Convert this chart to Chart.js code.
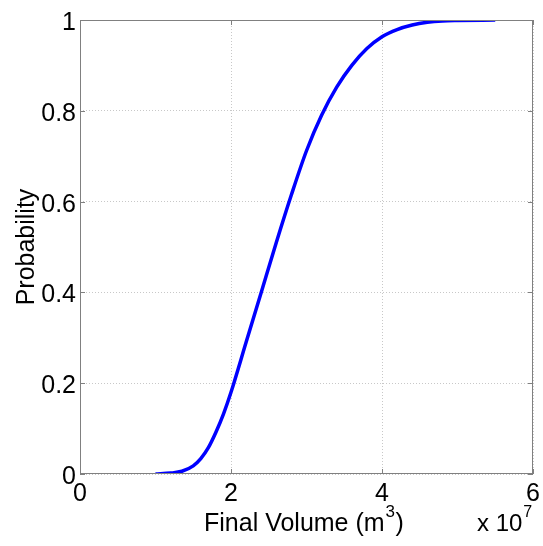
<!DOCTYPE html>
<html>
<head>
<meta charset="utf-8">
<script src="https://cdn.jsdelivr.net/npm/chart.js@4/dist/chart.umd.min.js"></script>
<style>
  html, body { margin: 0; padding: 0; background: #fff; }
  #wrap { width: 543px; height: 546px; }
</style>
</head>
<body>
<div id="wrap"><canvas id="cdf"></canvas></div>
<script>
// final volume, in units of 1e7 m^3
const volumes = [1.0, 1.2, 1.35, 1.5, 1.6, 1.7, 1.8, 1.9, 2.0, 2.2, 2.4, 2.6, 2.8, 3.0, 3.2, 3.4, 3.6, 3.8, 4.0, 4.2, 4.4, 4.6, 4.8, 5.0, 5.5]
const probability = [0, 0.002, 0.006, 0.018, 0.034, 0.058, 0.092, 0.132, 0.18, 0.29, 0.40, 0.51, 0.615, 0.712, 0.79, 0.852, 0.90, 0.937, 0.963, 0.979, 0.989, 0.995, 0.998, 0.999, 1.0]
const xTicks = [0, 2, 4, 6]
const xTickLabels = ["0", "2", "4", "6"]
const yTicks = [0, 0.2, 0.4, 0.6, 0.8, 1]
const yTickLabels = ["0", "0.2", "0.4", "0.6", "0.8", "1"]

const FONT = "Liberation Sans, Arial, Helvetica, sans-serif"

// matlab-ish frame, inward ticks, tick labels and the axis labels
const frame = {
  id: "frame",
  afterDraw(chart) {
    const { ctx, chartArea: a, scales } = chart
    ctx.save()
    ctx.strokeStyle = "#808080"
    ctx.lineWidth = 1
    ctx.strokeRect(a.left + 0.5, a.top + 0.5, a.right - a.left - 1, a.bottom - a.top - 1)
    ctx.beginPath()
    xTicks.forEach(v => {
      const x = Math.round(scales.x.getPixelForValue(v)) + 0.5
      ctx.moveTo(x, a.bottom); ctx.lineTo(x, a.bottom - 5)
      ctx.moveTo(x, a.top); ctx.lineTo(x, a.top + 5)
    })
    yTicks.forEach(v => {
      const y = Math.round(scales.y.getPixelForValue(v)) + 0.5
      ctx.moveTo(a.left, y); ctx.lineTo(a.left + 5, y)
      ctx.moveTo(a.right, y); ctx.lineTo(a.right - 5, y)
    })
    ctx.stroke()

    ctx.fillStyle = "#000"
    ctx.font = "25px " + FONT
    ctx.textBaseline = "alphabetic"

    // tick labels
    ctx.textAlign = "center"
    xTicks.forEach((v, i) => {
      ctx.fillText(xTickLabels[i], scales.x.getPixelForValue(v), a.bottom + 27)
    })
    ctx.textAlign = "right"
    yTicks.forEach((v, i) => {
      ctx.fillText(yTickLabels[i], a.left - 4, scales.y.getPixelForValue(v) + 10)
    })

    // x label with superscript
    ctx.textAlign = "left"
    ctx.fillText("Final Volume (m", 204, 531)
    let w = ctx.measureText("Final Volume (m").width
    ctx.font = "17px " + FONT
    ctx.fillText("3", 204 + w + 1, 517)
    ctx.font = "25px " + FONT
    ctx.fillText(")", 204 + w + 11, 531)

    // exponent
    ctx.font = "24px " + FONT
    ctx.fillText("x 10", 477, 531)
    w = ctx.measureText("x 10").width
    ctx.font = "16px " + FONT
    ctx.fillText("7", 477 + w + 1, 517)

    ctx.font = "25px " + FONT
    ctx.translate(34, 247)
    ctx.rotate(-Math.PI / 2)
    ctx.textAlign = "center"
    ctx.fillText("Probability", 0, 0)
    ctx.restore()
  }
}

new Chart(document.getElementById("cdf"), {
  type: "line",
  data: {
    datasets: [{
      data: volumes.map((v, i) => ({ x: v, y: probability[i] })),
      borderColor: "#0000ff",
      borderWidth: 3.5,
      pointRadius: 0,
      cubicInterpolationMode: "monotone",
      fill: false
    }]
  },
  options: {
    responsive: true,
    maintainAspectRatio: false,
    animation: false,
    layout: { padding: { top: 20, right: 10, left: 0, bottom: 0 } },
    plugins: { legend: { display: false }, tooltip: { enabled: false } },
    scales: {
      x: {
        type: "linear",
        min: 0, max: 6,
        afterBuildTicks: s => { s.ticks = xTicks.map(v => ({ value: v })) },
        afterFit: s => { s.height = 72 },
        ticks: { display: false },
        grid: { color: "#c8c8c8", drawTicks: false },
        border: { display: false, dash: [1, 2] }
      },
      y: {
        min: 0, max: 1,
        afterBuildTicks: s => { s.ticks = yTicks.map(v => ({ value: v })) },
        afterFit: s => { s.width = 80 },
        ticks: { display: false },
        grid: { color: "#c8c8c8", drawTicks: false },
        border: { display: false, dash: [1, 2] }
      }
    }
  },
  plugins: [frame]
})
</script>
</body>
</html>
